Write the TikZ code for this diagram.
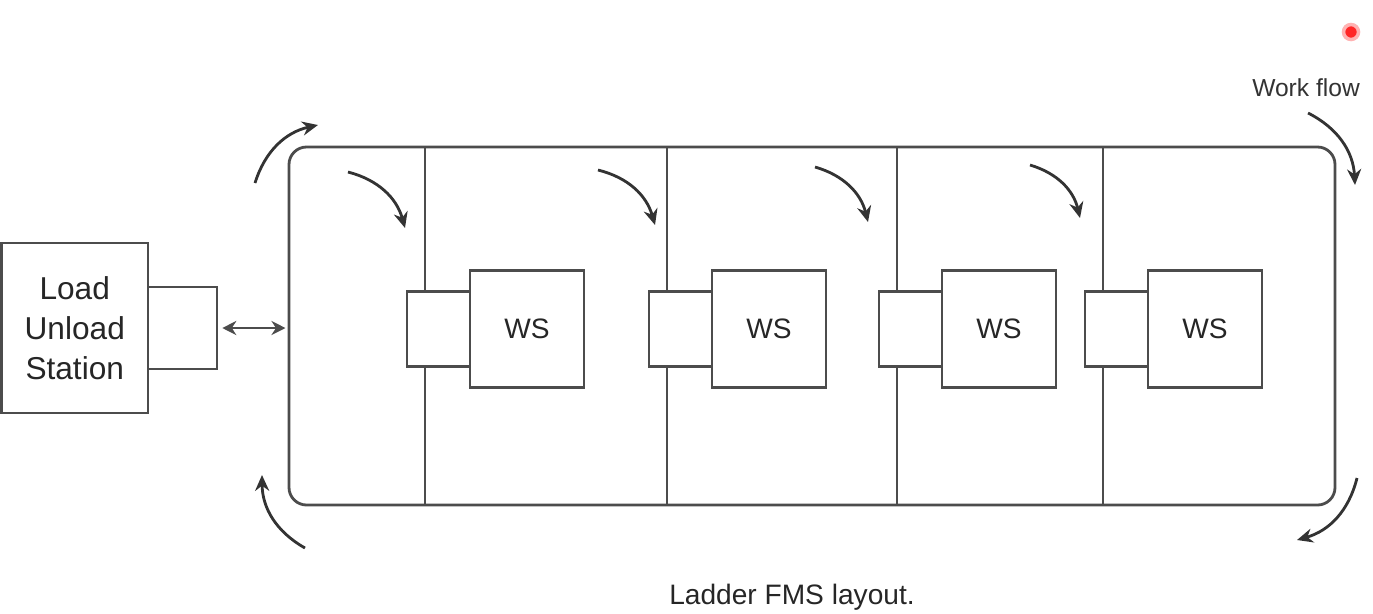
\documentclass[tikz,border=0pt]{standalone}
\usepackage{fontspec}
\setmainfont{Liberation Sans}
\usetikzlibrary{arrows.meta,positioning}

\begin{document}
\begin{tikzpicture}[
    line/.style={draw=black!70, line width=1.6pt},
    lus/.style={line, fill=white, minimum width=2.93cm, minimum height=3.4cm, inner sep=0pt, outer sep=0pt, align=center, text=black!85, font=\fontsize{18}{22.7}\selectfont},
    port/.style={line, fill=white, minimum width=1.26cm, minimum height=1.5cm, outer sep=0pt},
    ws/.style={line, fill=white, minimum width=2.28cm, minimum height=2.34cm, outer sep=0pt, text=black!85, font=\fontsize{16}{19}\selectfont},
    track/.style={line, rounded corners=0.35cm, minimum width=20.92cm, minimum height=7.16cm, outer sep=0pt},
    flow/.style={black!80, line width=1.6pt, -{Stealth[length=9pt,width=8pt]}}
]
\useasboundingbox (0,0) rectangle (27.46,-12.26);

% load / unload station
\node[lus] (lus) at (1.495,-6.56) {Load\\Unload\\Station};
\node[port, minimum width=1.38cm, minimum height=1.64cm, right=0pt of lus] (lusport) {};

% ladder track and rungs
\node[track] (track) at (16.24,-6.52) {};
\coordinate (r1) at (8.50,-6.58);
\coordinate (r2) at (13.34,-6.58);
\coordinate (r3) at (17.94,-6.58);
\coordinate (r4) at (22.06,-6.58);
\draw[line] (r1 |- track.north) -- (r1 |- track.south);
\draw[line] (r2 |- track.north) -- (r2 |- track.south);
\draw[line] (r3 |- track.north) -- (r3 |- track.south);
\draw[line] (r4 |- track.north) -- (r4 |- track.south);

% workstations
\node[port] (p1) at (8.77,-6.58) {};
\node[ws, right=0pt of p1] (ws1) {WS};
\node[port] (p2) at (13.61,-6.58) {};
\node[ws, right=0pt of p2] (ws2) {WS};
\node[port] (p3) at (18.21,-6.58) {};
\node[ws, right=0pt of p3] (ws3) {WS};
\node[port] (p4) at (22.33,-6.58) {};
\node[ws, right=0pt of p4] (ws4) {WS};

% transfer to track
\draw[line, {Stealth[length=8pt,width=8pt]}-{Stealth[length=8pt,width=8pt]}, shorten <=3pt, shorten >=2pt]
    (lusport.east) -- (lusport.east -| track.west);

% work flow arrows
\coordinate (tla) at (5.10,-3.66);   \coordinate (tlb) at (6.36,-2.50);
\coordinate (bla) at (6.10,-10.96);  \coordinate (blb) at (5.24,-9.50);
\coordinate (tra) at (26.16,-2.26);  \coordinate (trb) at (27.10,-3.70);
\coordinate (bra) at (27.14,-9.56);  \coordinate (brb) at (25.94,-10.80);
\draw[flow] (tla) to[bend left=30] (tlb);
\draw[flow] (bla) to[bend left=30] (blb);
\draw[flow] (tra) to[bend left=30] (trb);
\draw[flow] (bra) to[bend left=30] (brb);

\coordinate (f1a) at (6.96,-3.44);   \coordinate (f1b) at (8.10,-4.56);
\coordinate (f2a) at (11.96,-3.40);  \coordinate (f2b) at (13.10,-4.50);
\coordinate (f3a) at (16.30,-3.34);  \coordinate (f3b) at (17.36,-4.44);
\coordinate (f4a) at (20.60,-3.30);  \coordinate (f4b) at (21.60,-4.36);
\draw[flow] (f1a) to[bend left=30] (f1b);
\draw[flow] (f2a) to[bend left=30] (f2b);
\draw[flow] (f3a) to[bend left=30] (f3b);
\draw[flow] (f4a) to[bend left=30] (f4b);

% labels
\node[text=black!80, font=\fontsize{14}{16}\selectfont] (wflow) at (26.12,-1.76) {Work flow};
\node[circle, fill=red!85, draw=red!30, line width=2pt, minimum size=0.3cm, inner sep=0pt] (rec) at (27.02,-0.64) {};
\node[text=black!85, font=\fontsize{16}{19}\selectfont] (caption) at (15.84,-11.94) {Ladder FMS layout.};

\end{tikzpicture}
\end{document}
